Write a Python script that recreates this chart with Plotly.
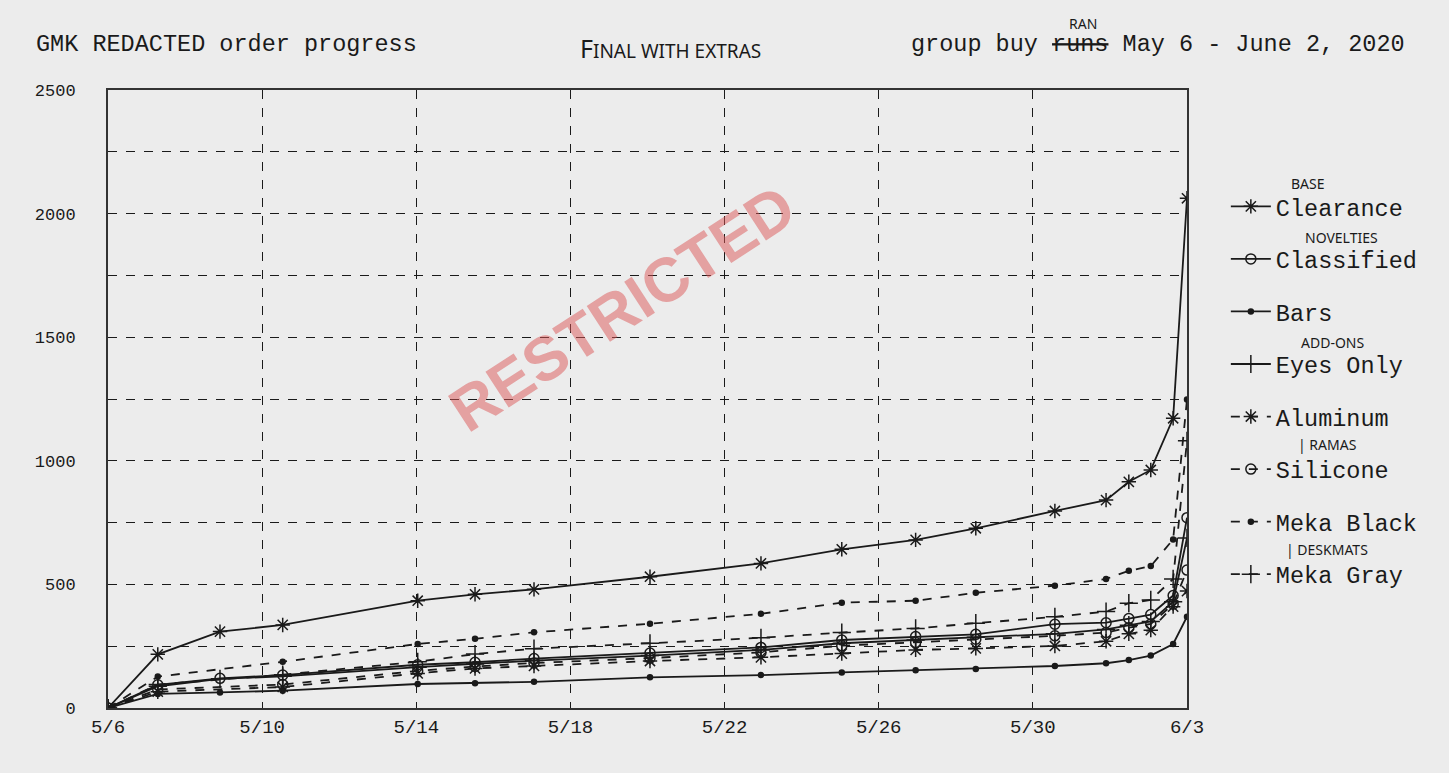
import plotly.graph_objects as go

# ---------------- data ----------------
times_all = ["2020-05-06 00:00", "2020-05-07 07:00", "2020-05-08 21:45", "2020-05-10 12:48",
             "2020-05-14 00:53", "2020-05-15 12:35", "2020-05-17 01:19", "2020-05-20 01:33",
             "2020-05-22 22:40", "2020-05-25 01:00", "2020-05-26 23:00", "2020-05-28 12:28",
             "2020-05-30 13:43", "2020-05-31 21:36", "2020-06-01 11:46", "2020-06-02 01:26",
             "2020-06-02 15:22", "2020-06-03 00:00"]
# dashed (ramas / deskmats) series have no 5/8 sample
times_dash = [t for i, t in enumerate(times_all) if i != 2]

clearance = [0, 217, 309, 336, 434, 460, 480, 531, 585, 642, 680, 727, 797, 841, 915, 963, 1172, 2062]
classified = [0, 94, 120, 133, 175, 185, 200, 222, 245, 275, 289, 298, 339, 345, 362, 378, 455, 770]
bars = [0, 57, 63, 70, 97, 100, 106, 124, 133, 144, 153, 158, 170, 181, 194, 212, 259, 369]
eyes_only = [0, 88, 118, 128, 165, 178, 192, 212, 235, 262, 275, 286, 300, 318, 335, 350, 430, 688]
aluminum = [0, 66, 85, 140, 160, 170, 190, 205, 220, 235, 241, 251, 270, 300, 315, 410, 473]
silicone = [0, 75, 95, 150, 168, 182, 202, 225, 252, 265, 278, 292, 305, 325, 340, 420, 558]
meka_black = [0, 127, 187, 259, 280, 306, 341, 381, 426, 434, 466, 495, 522, 555, 574, 682, 1248]
meka_gray = [0, 95, 135, 187, 218, 240, 262, 284, 305, 322, 343, 369, 390, 424, 437, 522, 1081]

x_tickvals = ["2020-05-06", "2020-05-10", "2020-05-14", "2020-05-18", "2020-05-22",
              "2020-05-26", "2020-05-30", "2020-06-03"]
x_ticktext = ["5/6", "5/10", "5/14", "5/18", "5/22", "5/26", "5/30", "6/3"]
y_tickvals = [0, 500, 1000, 1500, 2000, 2500]

# ---------------- styling ----------------
INK = "#1a1a1a"
MONO = "Liberation Mono, Courier New, monospace"
HAND = "Noto Sans, sans-serif"

series = [
    ("Clearance", times_all, clearance, "solid", "asterisk-open", 12),
    ("Classified", times_all, classified, "solid", "circle-open", 10),
    ("Bars", times_all, bars, "solid", "circle", 5),
    ("Eyes Only", times_all, eyes_only, "solid", "cross-thin-open", 13),
    ("Aluminum", times_dash, aluminum, "dash", "asterisk-open", 12),
    ("Silicone", times_dash, silicone, "dash", "circle-open", 10),
    ("Meka Black", times_dash, meka_black, "dash", "circle", 5),
    ("Meka Gray", times_dash, meka_gray, "dash", "cross-thin-open", 13),
]

fig = go.Figure()
for name, xs, ys, dash, sym, size in series:
    fig.add_trace(go.Scatter(
        x=xs, y=ys, name=name, mode="lines+markers", legendgroup=name,
        line=dict(color=INK, width=1.8, dash=dash),
        marker=dict(symbol=sym, size=size, color=INK, line=dict(color=INK, width=1.5)),
    ))

BG = "#ececec"
fig.update_layout(
    width=1449, height=773,
    paper_bgcolor=BG, plot_bgcolor=BG,
    margin=dict(l=108, r=262, t=90, b=65),
    font=dict(family=MONO, color=INK, size=18),
    showlegend=True,
    legend=dict(x=1.036, y=0.847, xanchor="left", yanchor="top",
                font=dict(family=MONO, size=23.5, color=INK),
                tracegroupgap=19, bgcolor="rgba(0,0,0,0)", itemwidth=40),
)

fig.update_xaxes(
    type="date", range=["2020-05-06", "2020-06-03"],
    tickvals=x_tickvals, ticktext=x_ticktext,
    tickfont=dict(family=MONO, size=19, color=INK),
    showgrid=True, gridcolor=INK, griddash="dash", gridwidth=1,
    showline=True, linecolor="#333333", linewidth=2, mirror=True,
    zeroline=False, ticks="", ticklen=0,
)
fig.update_yaxes(
    range=[0, 2500], tickvals=y_tickvals,
    tickfont=dict(family=MONO, size=17, color=INK),
    showgrid=True, gridcolor=INK, griddash="dash", gridwidth=1,
    minor=dict(tickvals=[250, 750, 1250, 1750, 2250], showgrid=True,
               gridcolor=INK, griddash="dash", gridwidth=1),
    showline=True, linecolor="#333333", linewidth=2, mirror=True,
    zeroline=False, ticks="", ticklabelstandoff=27,
)

ann = []
# header texts
ann.append(dict(text="GMK REDACTED order progress", x=-0.0686, y=1.073,
                xanchor="left", yanchor="middle", font=dict(family=MONO, size=23.5, color=INK)))
ann.append(dict(text="group buy <s>runs</s> May 6 - June 2, 2020", x=1.204, y=1.073,
                xanchor="right", yanchor="middle", font=dict(family=MONO, size=23.5, color=INK)))
ann.append(dict(text="RAN", x=0.904, y=1.108, xanchor="center", yanchor="middle",
                font=dict(family=HAND, size=14, color=INK)))
ann.append(dict(text="F<span style='font-size:19px'>INAL WITH EXTRAS</span>", x=0.521, y=1.068,
                xanchor="center", yanchor="middle", font=dict(family=HAND, size=25, color=INK)))
# legend handwritten notes
notes = [("BASE", 1.112, 0.848), ("NOVELTIES", 1.143, 0.762), ("ADD-ONS", 1.135, 0.592),
         ("| RAMAS", 1.13, 0.4256), ("| DESKMATS", 1.13, 0.257)]
for t, xx, yy in notes:
    ann.append(dict(text=t, x=xx, y=yy, xanchor="center", yanchor="middle",
                    font=dict(family=HAND, size=14, color=INK)))
# stamp
ann.append(dict(text="<b>RESTRICTED</b>", x=0.476, y=0.647, xanchor="center", yanchor="middle",
                textangle=-33, font=dict(family="Liberation Sans, Arial, sans-serif", size=62,
                                         color="rgba(220,85,85,0.5)")))
for a in ann:
    a.update(xref="paper", yref="paper", showarrow=False)
fig.update_layout(annotations=ann)

fig.write_html("out.html", config={"displayModeBar": False},
               post_script="document.body.style.margin='0';document.body.style.background='#ececec';")
